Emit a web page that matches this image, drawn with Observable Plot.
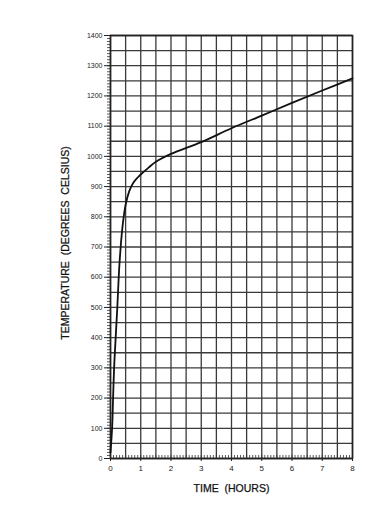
<!DOCTYPE html>
<html>
<head>
<meta charset="utf-8">
<script src="https://cdn.jsdelivr.net/npm/d3@7"></script>
<script src="https://cdn.jsdelivr.net/npm/@observablehq/plot@0.6"></script>
<style>
  html, body { margin: 0; padding: 0; background: #fff; }
  #chart svg { display: block; }
</style>
</head>
<body>
<div id="chart"></div>
<script>
// Time (hours) and furnace temperature (°C)
const timeHours = [0, 0.055, 0.09, 0.13, 0.22, 0.30, 0.40, 0.50, 0.62, 0.75, 0.90, 1.0, 1.25, 1.5, 2.0, 3.0, 4.0, 5.0, 6.0, 7.0, 8.0];
const temperatureC = [20, 104, 215, 324, 490, 650, 770, 840, 885, 912, 930, 940, 962, 982, 1008, 1047, 1093, 1135, 1177, 1218, 1258];

const xTickLabels = [0, 1, 2, 3, 4, 5, 6, 7, 8];
const yTickLabels = [0, 100, 200, 300, 400, 500, 600, 700, 800, 900, 1000, 1100, 1200, 1300, 1400];
const xGridValues = d3.range(0, 8.001, 0.5);
const yGridValues = d3.range(0, 1400.1, 50);
const xMinorTicks = d3.range(0, 8.001, 0.1).map(v => Math.round(v * 10) / 10);
const yMinorTicks = d3.range(0, 1400.1, 10);

const xTitle = "TIME  (HOURS)";
const yTitle = "TEMPERATURE  (DEGREES  CELSIUS)";

const data = timeHours.map((t, i) => ({t, temp: temperatureC[i]}));

const font = "'Liberation Sans', Arial, sans-serif";
const gridColor = "#3a3a3a";

const chart = Plot.plot({
  width: 380,
  height: 508,
  marginLeft: 110,
  marginRight: 28,
  marginTop: 35,
  marginBottom: 50,
  style: {fontFamily: font, background: "#fff", color: "#222"},
  x: {domain: [0, 8], label: null},
  y: {domain: [0, 1400], label: null},
  marks: [
    Plot.gridX(xGridValues, {stroke: gridColor, strokeOpacity: 1, strokeWidth: 1.3}),
    Plot.gridY(yGridValues, {stroke: gridColor, strokeOpacity: 1, strokeWidth: 1.3}),
    Plot.ruleX(xMinorTicks, {y1: 0, y2: 10, stroke: "#333", strokeWidth: 0.8}),
    Plot.axisY(yMinorTicks, {tickSize: 3, text: null, stroke: "#333", strokeWidth: 0.8, label: null}),
    Plot.axisY(yTickLabels, {tickSize: 6, tickPadding: 2, fontSize: 7, tickFormat: "d", stroke: "#222", label: null}),
    Plot.axisX(xTickLabels, {tickSize: 3, tickPadding: 4, fontSize: 8, tickFormat: "d", stroke: "#222", label: null}),
    Plot.frame({stroke: "#222", strokeWidth: 1.6}),
    Plot.line(data, {x: "t", y: "temp", curve: "catmull-rom", stroke: "#111", strokeWidth: 1.8}),
    Plot.text([xTitle], {frameAnchor: "bottom", dy: 33, fontSize: 10.5, fill: "#111", stroke: "#111", strokeWidth: 0.25, text: d => d, style: "letter-spacing:0.6px; white-space:pre"}),
    Plot.text([yTitle], {frameAnchor: "left", textAnchor: "middle", dx: -45, dy: -4, rotate: -90, fontSize: 10.5, fill: "#111", stroke: "#111", strokeWidth: 0.25, text: d => d, style: "letter-spacing:0.8px; white-space:pre"})
  ]
});

document.getElementById("chart").appendChild(chart);
</script>
</body>
</html>
